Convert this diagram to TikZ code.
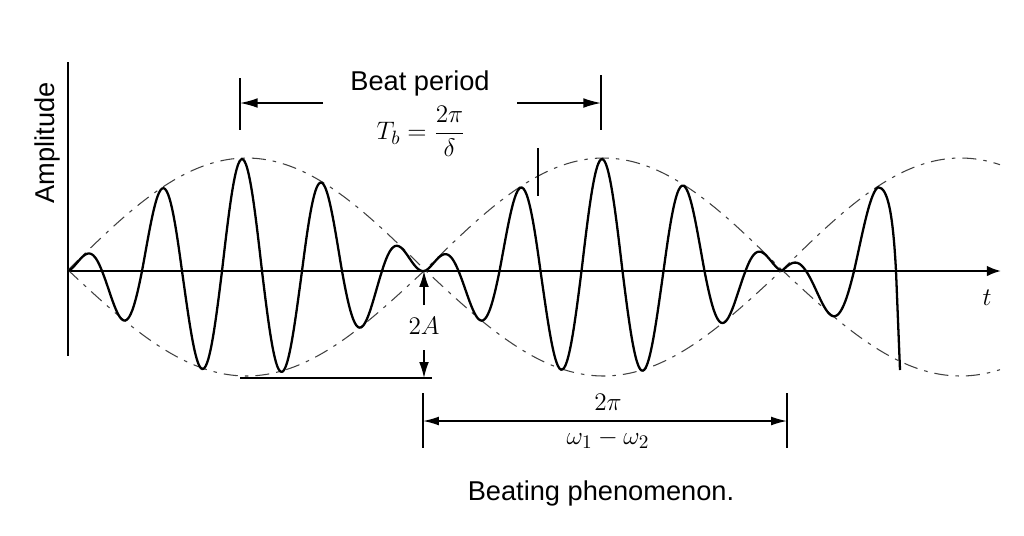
\documentclass[tikz,border=0pt]{standalone}
\usepackage{fontspec}
\setsansfont{Liberation Sans}
\usepackage{amsmath}
\usetikzlibrary{arrows.meta}
\tikzset{
  txt/.style={font=\fontsize{15.5}{18}\selectfont\sffamily, inner sep=0pt},
  mth/.style={font=\fontsize{15.5}{18}\selectfont, inner sep=0pt},
  axisline/.style={line width=1.2pt},
  wave/.style={line width=1.3pt, line join=round},
  env/.style={line width=0.6pt, black!75, dash pattern=on 8pt off 4pt on 2pt off 4pt},
  tick/.style={line width=0.9pt},
  dimline/.style={line width=0.8pt},
  dimtip/.style={-{Latex[length=10pt,width=5.5pt]}},
}
\begin{document}
\begin{tikzpicture}[x=0.02cm,y=-0.02cm,
  declare function={
    sn(\X)=sin((\X-68)*0.504202);
    am(\V)=(\V>0)*112*\V+(\V<=0)*106*\V;
    wv(\X,\Cc,\Pp)=abs(sn(\X))*cos((\X-\Cc)/\Pp*360);
  }]
\useasboundingbox[fill=white] (0,0) rectangle (1024,535);

% axes
\coordinate (O) at (68,271);
\coordinate (xend) at (1001,271);
\coordinate (ytop) at (68,62);
\coordinate (ybot) at (68,356);
\draw[tick] (ytop) -- (ybot);
\draw[axisline, -{Latex[length=8pt,width=6pt]}] (O) -- (xend);

% envelopes
\draw[env] plot[domain=68:1000, samples=240, smooth] (\x,{270-am(sn(\x))});
\draw[env] plot[domain=68:1000, samples=240, smooth] (\x,{270-am(-sn(\x))});

% carrier wave
\draw[wave] plot[domain=68:425, samples=240, smooth] (\x,{271-am(wv(\x,242,80))});
\draw[wave] plot[domain=425:782, samples=240, smooth] (\x,{271-am(wv(\x,602,82))});
\coordinate (wend) at (900,370);
\draw[wave] plot[domain=782:878, samples=80, smooth] (\x,{271-am(wv(\x,878,96))})
  .. controls (888,187) and (893,215) .. (896,271) -- (wend);

% beat period dimension
\coordinate (bp1t) at (240,78);  \coordinate (bp1b) at (240,130);
\coordinate (bp2t) at (601,75);  \coordinate (bp2b) at (601,130);
\coordinate (bpL) at (240,103);  \coordinate (bpLe) at (323,103);
\coordinate (bpRs) at (517,103); \coordinate (bpR) at (601,103);
\draw[tick] (bp1t) -- (bp1b);
\draw[tick] (bp2t) -- (bp2b);
\draw[dimline, dimtip] (bpLe) -- (bpL);
\draw[dimline, dimtip] (bpRs) -- (bpR);
\coordinate (mt1) at (538,148); \coordinate (mt2) at (538,196);
\draw[tick] (mt1) -- (mt2);
\node[txt] (beat) at (420,83) {Beat period};
\node[mth, anchor=base] (Tb) at (421,139.5) {$T_b = \dfrac{2\pi}{\delta}$};

% 2A dimension
\coordinate (aup0) at (424,305); \coordinate (aup1) at (424,271);
\coordinate (adn0) at (424,350); \coordinate (adn1) at (424,378);
\coordinate (hl0) at (240,378);  \coordinate (hl1) at (432,378);
\draw[dimline, -{Latex[length=9pt,width=5.5pt]}] (aup0) -- (aup1);
\draw[dimline, -{Latex[length=9pt,width=5.5pt]}] (adn0) -- (adn1);
\draw[dimline] (hl0) -- (hl1);
\node[mth] (twoA) at (424,326) {$2A$};

% 2pi/(w1-w2) dimension
\coordinate (d1t) at (423,393); \coordinate (d1b) at (423,448);
\coordinate (d2t) at (787,393); \coordinate (d2b) at (787,448);
\coordinate (dL) at (423,421);  \coordinate (dR) at (787,421);
\draw[tick] (d1t) -- (d1b);
\draw[tick] (d2t) -- (d2b);
\draw[dimline, {Latex[length=9pt,width=5pt]}-{Latex[length=9pt,width=5pt]}] (dL) -- (dR);
\node[mth, anchor=base] (frac) at (608,427.5) {$\dfrac{2\pi}{\omega_1-\omega_2}$};

% labels
\node[mth] (tlab) at (987,298) {$t$};
\node[txt, rotate=90] (amp) at (47,143) {Amplitude};
\node[txt] (cap) at (601,493) {Beating phenomenon.};
\end{tikzpicture}
\end{document}
